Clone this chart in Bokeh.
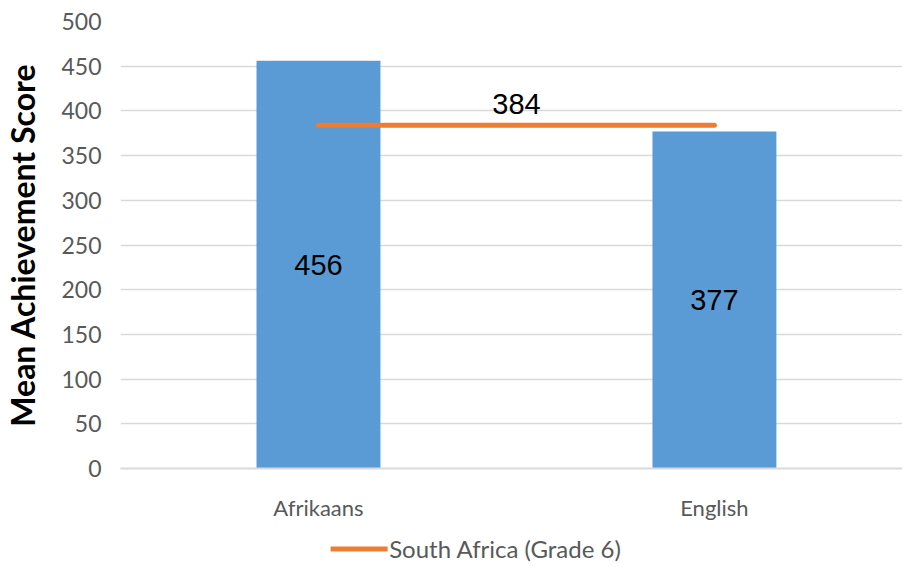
from bokeh.plotting import figure
from bokeh.layouts import column
from bokeh.models import (Range1d, FixedTicker, Legend, LegendItem, Label, ColumnDataSource)
from bokeh.core.properties import value
from bokeh.embed import file_html
from bokeh.resources import INLINE

categories = ["Afrikaans", "English"]
scores = [456, 377]
national_label = "South Africa (Grade 6)"
national_score = 384
y_ticks = [0, 50, 100, 150, 200, 250, 300, 350, 400, 450, 500]

BLUE = "#5B9BD5"
ORANGE = "#ED7D31"
GRAY = "#595959"
GRID = "#D9D9D9"

xs = [i + 0.5 for i in range(len(categories))]

p = figure(frame_width=782, frame_height=447, output_backend="svg", toolbar_location=None,
           x_range=Range1d(0, 1.975), y_range=Range1d(0, 500),
           min_border_left=113, min_border_right=0, min_border_top=21, min_border_bottom=63)
p.outline_line_color = None
p.background_fill_color = "white"
p.border_fill_color = "white"

src = ColumnDataSource(dict(x=xs, top=scores, mid=[s / 2 for s in scores],
                            lbl=[str(s) for s in scores]))
p.vbar(x="x", top="top", width=0.313, source=src, fill_color=BLUE, line_color=None)
p.text(x="x", y="mid", text="lbl", source=src, text_align="center", text_baseline="middle",
       text_font=value("Liberation Sans"), text_font_size="29px", text_color="black")

p.line(x=[xs[0], xs[-1]], y=[national_score, national_score], line_color=ORANGE,
       line_width=5, line_cap="round")
p.add_layout(Label(x=sum(xs) / len(xs), y=national_score, text=str(national_score),
                   text_align="center", text_baseline="bottom", y_offset=11,
                   text_font="Liberation Sans", text_font_size="29px", text_color="black"))

# axes
p.xaxis.ticker = FixedTicker(ticks=xs)
p.xaxis.major_label_overrides = {x: c for x, c in zip(xs, categories)}
p.xaxis.major_label_text_font = "Lato"
p.xaxis.major_label_text_font_size = "22px"
p.xaxis.major_label_text_color = GRAY
p.xaxis.major_label_standoff = 19
p.xaxis.major_tick_line_color = None
p.xaxis.minor_tick_line_color = None
p.xaxis.axis_line_color = GRID
p.xaxis.axis_line_width = 2

p.yaxis.ticker = FixedTicker(ticks=y_ticks)
p.yaxis.major_label_text_font = "Lato"
p.yaxis.major_label_text_font_size = "23px"
p.yaxis.major_label_text_color = GRAY
p.yaxis.major_label_standoff = 13
p.yaxis.major_tick_line_color = None
p.yaxis.minor_tick_line_color = None
p.yaxis.axis_line_color = None
p.yaxis.axis_label = "Mean Achievement Score"
p.yaxis.axis_label_text_font = "Lato"
p.yaxis.axis_label_text_font_style = "bold"
p.yaxis.axis_label_text_font_size = "32px"
p.yaxis.axis_label_text_color = "black"
p.yaxis.axis_label_standoff = 16

p.xgrid.grid_line_color = None
p.ygrid.grid_line_color = GRID
p.ygrid.grid_line_width = 1.5

# legend strip below the chart (its line lies outside the strip's visible range)
leg = figure(width=895, height=34, output_backend="svg", toolbar_location=None,
             x_range=Range1d(0, 1), y_range=Range1d(0, 1),
             min_border_left=39, min_border_right=64, min_border_top=0, min_border_bottom=0)
leg.axis.visible = False
leg.grid.grid_line_color = None
leg.outline_line_color = None
leg.background_fill_alpha = 0
leg_line = leg.line(x=[xs[0], xs[-1]], y=[national_score, national_score],
                    line_color=ORANGE, line_width=5, line_cap="round")
legend = Legend(items=[LegendItem(label=national_label, renderers=[leg_line])],
                location="center", orientation="horizontal",
                label_text_font="Lato", label_text_font_size="24px", label_text_color=GRAY,
                glyph_width=57, glyph_height=20, label_standoff=2, padding=2, margin=0,
                border_line_color=None, background_fill_alpha=0)
leg.add_layout(legend, "center")

open("out.html", "w").write(file_html(column(p, leg), INLINE))
